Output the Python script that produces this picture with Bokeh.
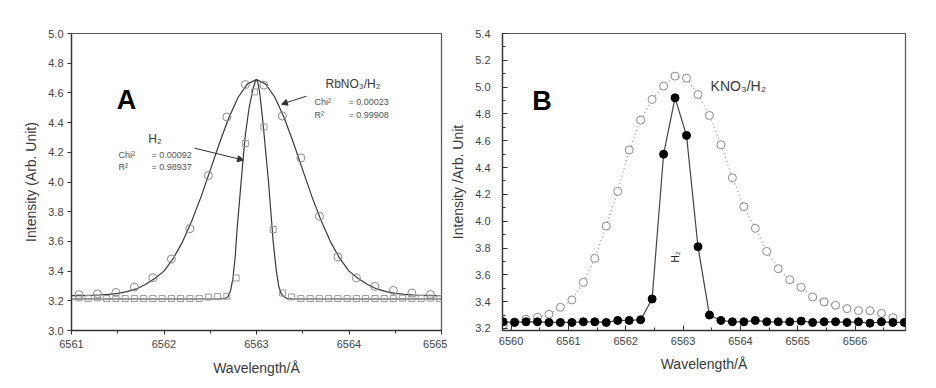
from bokeh.plotting import figure
from bokeh.layouts import row
from bokeh.models import Range1d, Label, Arrow, NormalHead, FixedTicker, PrintfTickFormatter
from bokeh.embed import file_html
from bokeh.resources import INLINE

# ---------------- Panel A data ----------------
a_rb_x = [6561.08, 6561.28, 6561.48, 6561.68, 6561.88, 6562.08, 6562.28, 6562.48, 6562.68, 6562.88,
          6563.08, 6563.28, 6563.48, 6563.68, 6563.88, 6564.08, 6564.28, 6564.48, 6564.68, 6564.88]
a_rb_y = [3.241, 3.247, 3.256, 3.292, 3.355, 3.481, 3.686, 4.043, 4.438, 4.656,
          4.652, 4.445, 4.162, 3.769, 3.495, 3.355, 3.297, 3.270, 3.252, 3.243]

a_h2_x = [6561.08, 6561.18, 6561.28, 6561.38, 6561.48, 6561.58, 6561.68, 6561.78, 6561.88, 6561.98,
          6562.08, 6562.18, 6562.28, 6562.38, 6562.48, 6562.58, 6562.68, 6562.78, 6562.88, 6562.98,
          6563.08, 6563.18, 6563.28, 6563.38, 6563.48, 6563.58, 6563.68, 6563.78, 6563.88, 6563.98,
          6564.08, 6564.18, 6564.28, 6564.38, 6564.48, 6564.58, 6564.68, 6564.78, 6564.88, 6564.98]
a_h2_y = [3.220, 3.215, 3.220, 3.215, 3.215, 3.215, 3.215, 3.215, 3.215, 3.215,
          3.215, 3.215, 3.215, 3.215, 3.225, 3.228, 3.231, 3.354, 4.259, 4.607,
          4.371, 3.680, 3.253, 3.226, 3.215, 3.215, 3.215, 3.215, 3.215, 3.215,
          3.215, 3.215, 3.215, 3.215, 3.215, 3.218, 3.215, 3.215, 3.218, 3.215]

# fitted curves
a_rbfit_x = [6561.0, 6561.1, 6561.2, 6561.3, 6561.4, 6561.5, 6561.6, 6561.7, 6561.8, 6561.9,
             6562.0, 6562.1, 6562.2, 6562.3, 6562.4, 6562.5, 6562.6, 6562.7, 6562.8, 6562.9,
             6563.0, 6563.1, 6563.2, 6563.3, 6563.4, 6563.5, 6563.6, 6563.7, 6563.8, 6563.9,
             6564.0, 6564.1, 6564.2, 6564.3, 6564.4, 6564.5, 6564.6, 6564.7, 6564.8, 6564.9, 6565.0]
a_rbfit_y = [3.235, 3.235, 3.237, 3.239, 3.243, 3.250, 3.262, 3.280, 3.310, 3.350,
             3.400, 3.485, 3.597, 3.737, 3.900, 4.080, 4.263, 4.431, 4.569, 4.659,
             4.690, 4.659, 4.569, 4.431, 4.263, 4.080, 3.900, 3.737, 3.597, 3.485,
             3.400, 3.350, 3.310, 3.280, 3.262, 3.250, 3.243, 3.239, 3.237, 3.235, 3.235]

a_h2fit_x = [6561.0, 6562.6, 6562.66, 6562.69, 6562.72, 6562.745, 6562.77, 6562.79, 6562.82, 6562.85,
             6562.88, 6562.92, 6562.96, 6562.985, 6563.0, 6563.015, 6563.035, 6563.07, 6563.10, 6563.13,
             6563.155, 6563.18, 6563.215, 6563.24, 6563.265, 6563.29, 6563.33, 6563.4, 6565.0]
a_h2fit_y = [3.212, 3.212, 3.215, 3.226, 3.270, 3.350, 3.500, 3.680, 3.900, 4.120,
             4.320, 4.500, 4.620, 4.675, 4.692, 4.670, 4.600, 4.400, 4.200, 4.000,
             3.800, 3.600, 3.400, 3.300, 3.250, 3.230, 3.215, 3.212, 3.212]

a_xticks = [6561, 6562, 6563, 6564, 6565]
a_xminor = [6561.5, 6562.5, 6563.5, 6564.5]
a_yticks = [3.0, 3.2, 3.4, 3.6, 3.8, 4.0, 4.2, 4.4, 4.6, 4.8, 5.0]

# ---------------- Panel B data ----------------
b_h2_x = [6559.66, 6559.86, 6560.06, 6560.26, 6560.46, 6560.66, 6560.86, 6561.06, 6561.26, 6561.46,
          6561.66, 6561.86, 6562.06, 6562.26, 6562.46, 6562.66, 6562.86, 6563.06, 6563.26, 6563.46,
          6563.66, 6563.86, 6564.06, 6564.26, 6564.46, 6564.66, 6564.86, 6565.06, 6565.26, 6565.46,
          6565.66, 6565.86, 6566.06, 6566.26, 6566.46, 6566.66, 6566.86, 6567.06]
b_h2_y = [3.250, 3.250, 3.245, 3.250, 3.250, 3.245, 3.245, 3.245, 3.250, 3.250,
          3.245, 3.260, 3.260, 3.265, 3.420, 4.500, 4.920, 4.640, 3.810, 3.300,
          3.260, 3.250, 3.250, 3.260, 3.250, 3.250, 3.250, 3.255, 3.245, 3.250,
          3.250, 3.245, 3.250, 3.240, 3.250, 3.245, 3.245, 3.250]

b_kno3_x = [6559.86, 6560.06, 6560.26, 6560.46, 6560.66, 6560.86, 6561.06, 6561.26, 6561.46, 6561.66,
            6561.86, 6562.06, 6562.26, 6562.46, 6562.66, 6562.86, 6563.06, 6563.26, 6563.46, 6563.66,
            6563.86, 6564.06, 6564.26, 6564.46, 6564.66, 6564.86, 6565.06, 6565.26, 6565.46, 6565.66,
            6565.86, 6566.06, 6566.26, 6566.46, 6566.66]
b_kno3_y = [3.226, 3.250, 3.269, 3.284, 3.306, 3.358, 3.413, 3.544, 3.723, 3.964,
            4.223, 4.531, 4.754, 4.908, 5.008, 5.082, 5.067, 4.945, 4.789, 4.570,
            4.324, 4.108, 3.947, 3.775, 3.646, 3.564, 3.507, 3.435, 3.398, 3.373,
            3.348, 3.333, 3.333, 3.313, 3.281]

b_xticks = [6560, 6561, 6562, 6563, 6564, 6565, 6566]
b_xminor = [6560.5, 6561.5, 6562.5, 6563.5, 6564.5, 6565.5, 6566.5]
b_yticks = [3.2, 3.4, 3.6, 3.8, 4.0, 4.2, 4.4, 4.6, 4.8, 5.0, 5.2, 5.4]
b_yminor = [3.3, 3.5, 3.7, 3.9, 4.1, 4.3, 4.5, 4.7, 4.9, 5.1, 5.3]

FONT = "Liberation Sans"
AX = "#333333"
TXT = "#3a3a3a"


def style(p, ticks_in):
    p.xgrid.visible = False
    p.ygrid.visible = False
    p.outline_line_color = "#555555"
    p.outline_line_width = 1.2
    p.background_fill_color = "white"
    p.border_fill_color = "white"
    p.yaxis.formatter = PrintfTickFormatter(format="%.1f")
    p.xaxis.formatter = PrintfTickFormatter(format="%d")
    for ax in (p.xaxis[0], p.yaxis[0]):
        ax.axis_line_color = AX
        ax.axis_line_width = 1.3
        ax.major_tick_line_color = AX
        ax.minor_tick_line_color = AX
        ax.major_label_text_font = FONT
        ax.major_label_text_font_size = "11px"
        ax.major_label_text_color = "#444444"
        ax.axis_label_text_font = FONT
        ax.axis_label_text_font_size = "14px"
        ax.axis_label_text_font_style = "normal"
        ax.axis_label_text_color = TXT
        if ticks_in:
            ax.major_tick_in = 5
            ax.major_tick_out = 0
            ax.minor_tick_in = 3
            ax.minor_tick_out = 0
        else:
            ax.major_tick_in = 0
            ax.major_tick_out = 4
            ax.minor_tick_in = 0
            ax.minor_tick_out = 3


# ---------------- Panel A ----------------
pA = figure(width=447, height=378, x_range=Range1d(6561, 6565), y_range=Range1d(3.0, 5.0),
            output_backend="svg", toolbar_location=None,
            min_border_left=71, min_border_right=6, min_border_top=33, min_border_bottom=48)
style(pA, False)
pA.xaxis.ticker = FixedTicker(ticks=a_xticks, minor_ticks=a_xminor)
pA.yaxis.ticker = FixedTicker(ticks=a_yticks, minor_ticks=[])
pA.xaxis.axis_label = "Wavelength/Å"
pA.yaxis.axis_label = "Intensity (Arb. Unit)"
pA.xaxis.major_label_standoff = 5
pA.xaxis.axis_label_standoff = 9
pA.yaxis.major_label_standoff = 4
pA.yaxis.axis_label_standoff = 6

pA.line(a_rbfit_x, a_rbfit_y, line_color="#3a3a3a", line_width=1.2)
pA.line(a_h2fit_x, a_h2fit_y, line_color="#3a3a3a", line_width=1.2)
pA.scatter(a_h2_x, a_h2_y, marker="square", size=6, fill_color=None,
           line_color="#9a9a9a", line_width=1)
pA.scatter(a_rb_x, a_rb_y, marker="circle", size=8, fill_color=None,
           line_color="#8a8a8a", line_width=1)

pA.add_layout(Label(x=6561.49, y=4.55, text="A", text_font=FONT, text_font_size="27px",
                    text_font_style="bold", text_color="black", text_baseline="middle"))
pA.add_layout(Label(x=6563.746, y=4.66, text="RbNO₃/H₂", text_font=FONT, text_font_size="12px",
                    text_color=TXT, text_baseline="middle"))
for (lx, ly, t) in [(6563.627, 4.537, "Chi²"), (6563.995, 4.537, "= 0.00023"),
                    (6563.627, 4.450, "R²"), (6563.995, 4.450, "= 0.99908"),
                    (6561.508, 4.180, "Chi²"), (6561.865, 4.180, "= 0.00092"),
                    (6561.508, 4.100, "R²"), (6561.865, 4.100, "= 0.98937")]:
    pA.add_layout(Label(x=lx, y=ly, text=t, text_font=FONT, text_font_size="9px",
                        text_color="#555555", text_baseline="middle"))
pA.add_layout(Label(x=6561.83, y=4.29, text="H₂", text_font=FONT, text_font_size="12px",
                    text_color=TXT, text_baseline="middle"))
pA.add_layout(Arrow(end=NormalHead(size=6, fill_color="#333333", line_color="#333333"),
                    x_start=6563.54, y_start=4.578, x_end=6563.27, y_end=4.524,
                    line_color="#333333", line_width=1))
pA.add_layout(Arrow(end=NormalHead(size=6, fill_color="#333333", line_color="#333333"),
                    x_start=6562.33, y_start=4.228, x_end=6562.86, y_end=4.147,
                    line_color="#333333", line_width=1))

# ---------------- Panel B ----------------
pB = figure(width=478, height=378, x_range=Range1d(6559.85, 6566.88), y_range=Range1d(3.185, 5.4),
            output_backend="svg", toolbar_location=None,
            min_border_left=55, min_border_right=20, min_border_top=33, min_border_bottom=48)
style(pB, True)
pB.xaxis.ticker = FixedTicker(ticks=b_xticks, minor_ticks=b_xminor)
pB.yaxis.ticker = FixedTicker(ticks=b_yticks, minor_ticks=b_yminor)
pB.xaxis.axis_label = "Wavelength/Å"
pB.yaxis.axis_label = "Intensity /Arb. Unit"
pB.xaxis.major_label_standoff = 6
pB.xaxis.axis_label_standoff = 8
pB.yaxis.major_label_standoff = 12
pB.yaxis.axis_label_standoff = 6

pB.line(b_kno3_x, b_kno3_y, line_color="#8a8a8a", line_width=1.2, line_dash="1 3")
pB.scatter(b_kno3_x, b_kno3_y, marker="circle", size=8, fill_color="white",
           line_color="#8a8a8a", line_width=1)
pB.line(b_h2_x, b_h2_y, line_color="#444444", line_width=1.2)
pB.scatter(b_h2_x, b_h2_y, marker="circle", size=8, fill_color="black",
           line_color="black", line_width=1)

pB.add_layout(Label(x=6560.37, y=4.90, text="B", text_font=FONT, text_font_size="27px",
                    text_font_style="bold", text_color="black", text_baseline="middle"))
pB.add_layout(Label(x=6563.48, y=5.01, text="KNO₃/H₂", text_font=FONT, text_font_size="14px",
                    text_color=TXT, text_baseline="middle"))
pB.add_layout(Label(x=6562.873, y=3.733, text="H₂", text_font=FONT, text_font_size="10px",
                    text_color="#222222", text_baseline="middle", text_align="center",
                    angle=1.5708))

layout = row(pA, pB)
open("out.html", "w").write(file_html(layout, INLINE))
